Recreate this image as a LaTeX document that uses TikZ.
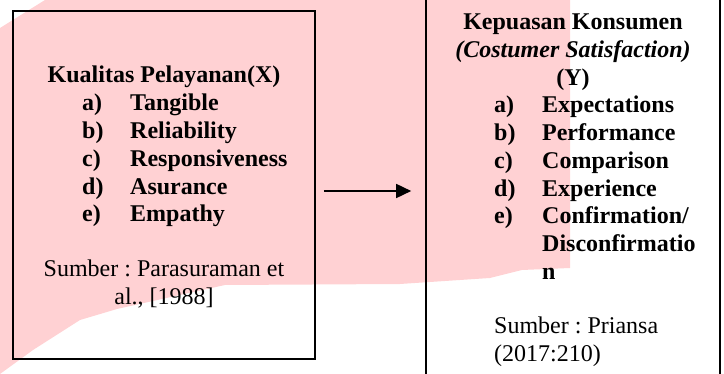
\documentclass[tikz,border=0pt]{standalone}
\usepackage{fontspec}
\setmainfont{Liberation Serif}
\usepackage{xcolor}
\usetikzlibrary{arrows.meta}
\usetikzlibrary{calc}
\frenchspacing

\definecolor{hilite}{RGB}{255,209,211}

\tikzset{
  frame/.style={draw, line width=1.6pt, inner sep=0pt},
  txt/.style={anchor=base, inner sep=0pt, font=\fontsize{24}{27.7}\selectfont},
  lst/.style={txt, anchor=base west, font=\fontsize{24}{27.7}\selectfont\bfseries},
  flow/.style={-{Triangle[length=15pt,width=14pt]}, line width=1.6pt}
}

\begin{document}
\begin{tikzpicture}[x=1pt,y=-1pt]
\useasboundingbox (0,0) rectangle (724,374);

% pink marker behind everything
\fill[hilite] (45,0) -- (570,0) -- (570,268) -- (522,270) -- (490,278) -- (400,284)
  -- (225,285) -- (117,309) -- (80,320) -- (33,350) -- (0,374) -- (0,28) -- cycle;

\node[frame, minimum width=302pt, minimum height=348pt] (kualitas) at (164,185) {};
\node[frame, minimum width=294pt, minimum height=400pt] (kepuasan) at (573,190) {};

%left box
\node[txt, font=\fontsize{24}{27.7}\selectfont\bfseries] (xtitle) at (164,83) {Kualitas Pelayanan(X)};
\node[lst] (xlist) at (82,111) {\begin{tabular}[t]{@{}p{48pt}@{}l@{}}
a) & Tangible\\
b) & Reliability\\
c) & Responsiveness\\
d) & Asurance\\
e) & Empathy
\end{tabular}};
\node[txt] (xsrc) at (164,277) {\begin{tabular}[t]{@{}c@{}}Sumber : Parasuraman et\\ al., [1988]\end{tabular}};

%right box
\node[txt, font=\fontsize{24}{27.7}\selectfont\bfseries] (ytitle) at (573,30) {\begin{tabular}[t]{@{}c@{}}Kepuasan Konsumen\\ \textit{(Costumer Satisfaction)}\\ (Y)\end{tabular}};
\node[lst] (ylist) at (494,113) {\begin{tabular}[t]{@{}p{48pt}@{}l@{}}
a) & Expectations\\
b) & Performance\\
c) & Comparison\\
d) & Experience\\
e) & Confirmation/\\
   & Disconfirmatio\\
   & n
\end{tabular}};
\node[txt, anchor=base west] (ysrc) at (494,334) {\begin{tabular}[t]{@{}l@{}}Sumber : Priansa\\ (2017:210)\end{tabular}};

\draw[flow, shorten <=8pt, shorten >=14pt] ([yshift=-6pt]kualitas.east) -- ([yshift=-6pt]kualitas.east -| kepuasan.west);

\end{tikzpicture}
\end{document}
